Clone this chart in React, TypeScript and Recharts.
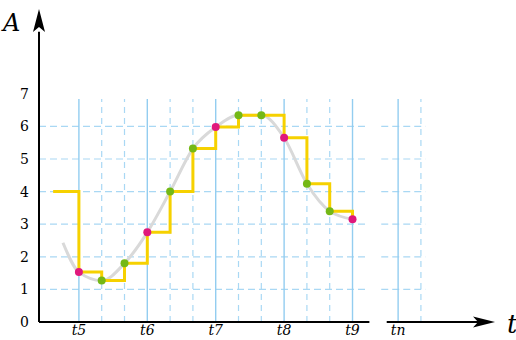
import React from 'react';
import {
  ComposedChart, Line, Scatter, XAxis, YAxis, ReferenceLine, ReferenceDot, Cell,
} from 'recharts';

// sample positions (1 unit = one third of a t-interval)
const sampleX = [0, 1, 2, 3, 4, 5, 6, 7, 8, 9, 10, 11, 12];
const sampleY = [1.53, 1.27, 1.8, 2.75, 4.0, 5.32, 5.98, 6.34, 6.34, 5.65, 4.24, 3.4, 3.15];
const mainSamples = [0, 3, 6, 9, 12];

// step line starts with a hold at 4 before t5
const stepStart = { x: -1.13, y: 4 };
// analog curve starts a bit before t5
const curveStart = { x: -0.7, y: 2.43 };

const tickX = [0, 3, 6, 9, 12, 14];
const tickLabels = ['t5', 't6', 't7', 't8', 't9', 'tn'];
const tickY = [0, 1, 2, 3, 4, 5, 6, 7];

const solidGridX = [0, 3, 6, 9, 12, 14];
const dashedGridX = [1, 2, 4, 5, 7, 8, 10, 11, 15];
const gridY = [1, 2, 3, 4, 5, 6];

const X_MIN = -1.75;
const X_MAX = 18.6;
const Y_MAX = 9.6;

const BLUE = '#93cdf0';
const BLUE_DASH = '#a9d8f4';
const YELLOW = '#f6d100';
const PINK = '#e0187c';
const GREEN = '#74b816';
const GREY = '#d9d9d9';
const FONT = 'DejaVu Serif';

const samples = sampleX.map((x, i) => ({ x, y: sampleY[i] }));
const stepData = [stepStart, ...samples];
const curveData = [curveStart, ...samples];

const ArrowRight = (props: any) => {
  const { cx, cy } = props;
  return (
    <g>
      <path d={`M${cx},${cy} L${cx - 22},${cy - 5.5} L${cx - 17},${cy} L${cx - 22},${cy + 5.5} Z`} fill="#000" />
      <text x={cx + 12} y={cy + 11} fontFamily={FONT} fontStyle="italic" fontSize={26} fill="#000">t</text>
    </g>
  );
};

const ArrowUp = (props: any) => {
  const { cx, cy } = props;
  return (
    <g>
      <path d={`M${cx},${cy} L${cx - 6},${cy + 23} L${cx},${cy + 18} L${cx + 6},${cy + 23} Z`} fill="#000" />
      <text x={cx - 36} y={cy + 22} fontFamily={FONT} fontStyle="italic" fontSize={24} fill="#000">A</text>
    </g>
  );
};

export default function App() {
  return (
    <div style={{ position: 'absolute', left: 0, top: 0, background: '#fff' }}>
      <ComposedChart width={516} height={340} margin={{ top: 9, right: 13, left: 0, bottom: 0 }}>
        <XAxis
          type="number"
          dataKey="x"
          domain={[X_MIN, X_MAX]}
          allowDataOverflow
          ticks={tickX}
          tickFormatter={(v) => tickLabels[tickX.indexOf(v)] ?? ''}
          axisLine={false}
          tickLine={false}
          tickSize={0}
          tickMargin={3}
          height={18}
          tick={{ fontFamily: FONT, fontStyle: 'italic', fontSize: 14, fill: '#000' }}
        />
        <YAxis
          type="number"
          dataKey="y"
          domain={[0, Y_MAX]}
          allowDataOverflow
          ticks={tickY}
          axisLine={false}
          tickLine={false}
          tickSize={0}
          tickMargin={10}
          width={39}
          tick={{ fontFamily: FONT, fontSize: 14, fill: '#000' }}
        />

        {/* grid */}
        {gridY.map((y) => (
          <ReferenceLine key={`ha-${y}`} segment={[{ x: X_MIN, y }, { x: 12.57, y }]} stroke={BLUE_DASH} strokeWidth={1.2} strokeDasharray="7 4" />
        ))}
        {gridY.map((y) => (
          <ReferenceLine key={`hb-${y}`} segment={[{ x: 13.26, y }, { x: 15.2, y }]} stroke={BLUE_DASH} strokeWidth={1.2} strokeDasharray="7 4" />
        ))}
        {dashedGridX.map((x) => (
          <ReferenceLine key={`vd-${x}`} segment={[{ x, y: 0 }, { x, y: 6.84 }]} stroke={BLUE_DASH} strokeWidth={1.2} strokeDasharray="6 5" />
        ))}
        {solidGridX.map((x) => (
          <ReferenceLine key={`vs-${x}`} segment={[{ x, y: 0 }, { x, y: 6.84 }]} stroke={BLUE} strokeWidth={1.4} />
        ))}

        {/* axes */}
        <ReferenceLine segment={[{ x: X_MIN, y: 0 }, { x: 12.74, y: 0 }]} stroke="#000" strokeWidth={2} />
        <ReferenceLine segment={[{ x: 13.5, y: 0 }, { x: 17.6, y: 0 }]} stroke="#000" strokeWidth={2} />
        <ReferenceLine segment={[{ x: X_MIN, y: 0 }, { x: X_MIN, y: 8.9 }]} stroke="#000" strokeWidth={2} />
        <ReferenceDot x={18.25} y={0} r={0} shape={ArrowRight} ifOverflow="visible" />
        <ReferenceDot x={X_MIN} y={9.6} r={0} shape={ArrowUp} ifOverflow="visible" />

        <Line
          data={curveData}
          dataKey="y"
          type="monotone"
          stroke={GREY}
          strokeWidth={3}
          dot={false}
          isAnimationActive={false}
        />
        <Line
          data={stepData}
          dataKey="y"
          type="stepAfter"
          stroke={YELLOW}
          strokeWidth={3}
          dot={false}
          isAnimationActive={false}
        />
        <Scatter data={samples} dataKey="y" isAnimationActive={false} shape={(p: any) => <circle cx={p.cx} cy={p.cy} r={4} fill={p.fill} />}>
          {samples.map((s, i) => (
            <Cell key={i} fill={mainSamples.includes(s.x) ? PINK : GREEN} />
          ))}
        </Scatter>
      </ComposedChart>
    </div>
  );
}
